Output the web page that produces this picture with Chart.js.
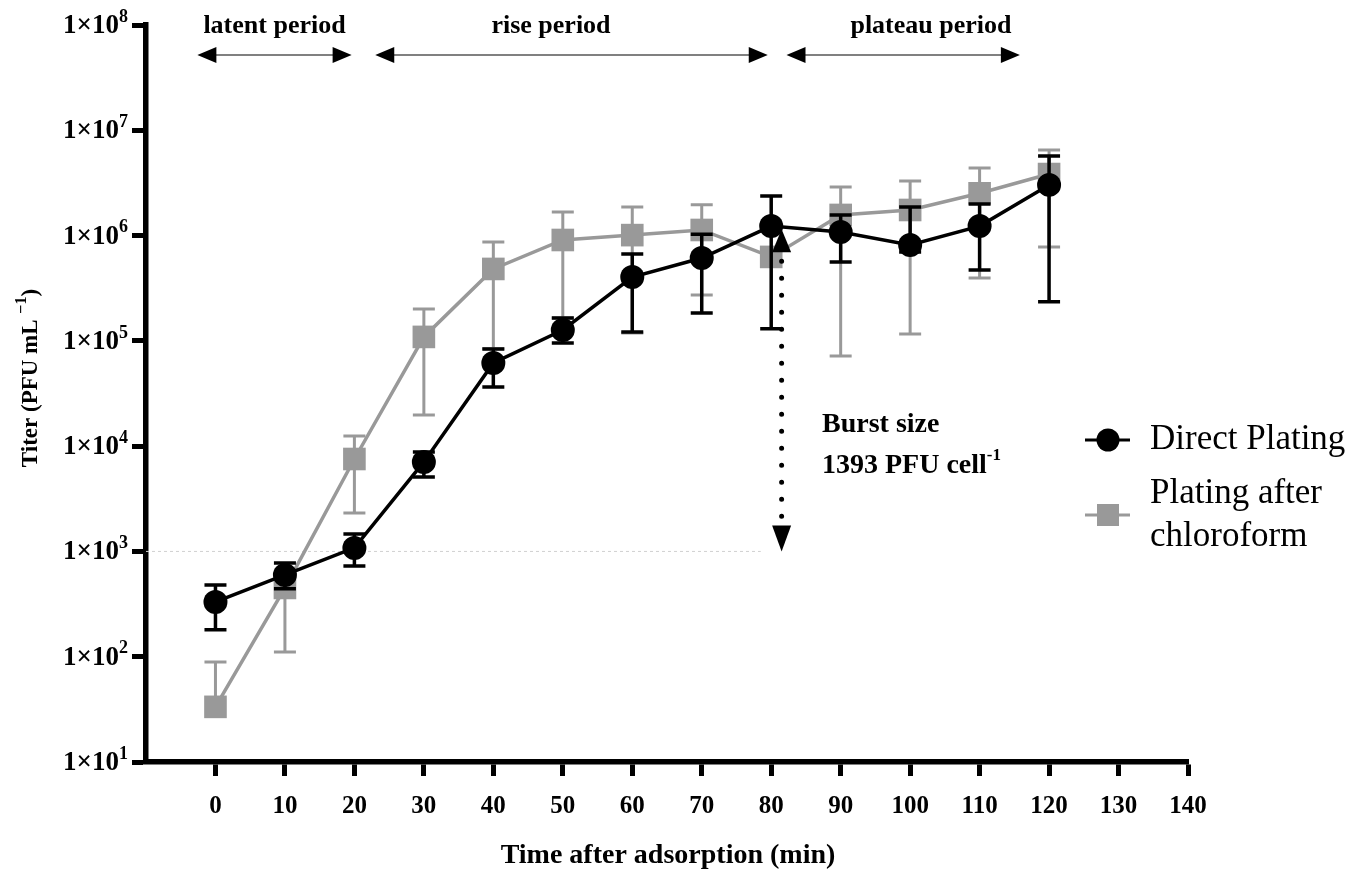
<!DOCTYPE html>
<html><head><meta charset="utf-8">
<script src="https://cdn.jsdelivr.net/npm/chart.js@4/dist/chart.umd.min.js"></script>
<style>html,body{margin:0;padding:0;background:#fff;}#wrap{position:relative;width:1362px;height:871px;}</style>
</head><body><div id="wrap"><canvas id="c" width="1362" height="871"></canvas></div>
<script>
// ---- data ----
const times = [0,10,20,30,40,50,60,70,80,90,100,110,120];
const directMean = [331, 598, 1080, 7080, 61700, 126800, 404000, 612000, 1230000, 1080000, 815000, 1230000, 3030000];
const directLow  = [180, 441, 728, 5090, 36500, 95600, 121600, 184000, 130000, 561000, 700000, 471000, 235000];
const directHigh = [479, 778, 1466, 8800, 83800, 165000, 668000, 1030000, 2380000, 1570000, 1870000, 2000000, 5700000];
const chloroMean = [33.4, 450, 7550, 109000, 482000, 908000, 1010000, 1130000, 627000, 1570000, 1750000, 2520000, 3840000];
const chloroLow  = [33.4, 111, 2320, 19800, 84000, 165000, 119000, 273000, 627000, 72000, 116000, 395000, 780000];
const chloroHigh = [89, 600, 12500, 201000, 871000, 1670000, 1870000, 1960000, 627000, 2890000, 3300000, 4380000, 6500000];
const yTickValues = [1e1,1e2,1e3,1e4,1e5,1e6,1e7,1e8];
const xTickValues = [0,10,20,30,40,50,60,70,80,90,100,110,120,130,140];
const seriesNames = ['Direct Plating', 'Plating after chloroform'];
const periodLabels = ['latent period','rise period','plateau period'];
const periodStart = [-2.6, 23.0, 82.2];
const periodEnd   = [19.6, 79.5, 115.8];
const periodLabelX = [8.5, 48.3, 103];
const burstX = 81.5, burstTop = 1.15e6, burstBottom = 1e3;
const burstText1 = 'Burst size', burstText2 = '1393 PFU cell', burstSup = '-1';

const SERIF = '"Liberation Serif", "DejaVu Serif", serif';
const BLACK = '#000000', GRAY = '#999999';

function drawSup(ctx, parts, x, y, align, baseSize, supSize, bold, supRise) {
  const w = bold ? 'bold ' : '';
  let total = 0;
  parts.forEach(p => { ctx.font = w + (p.sup ? supSize : baseSize) + 'px ' + SERIF; total += ctx.measureText(p.t).width; });
  let cx = align === 'right' ? x - total : (align === 'center' ? x - total / 2 : x);
  ctx.textAlign = 'left'; ctx.textBaseline = 'middle';
  parts.forEach(p => {
    ctx.font = w + (p.sup ? supSize : baseSize) + 'px ' + SERIF;
    ctx.fillText(p.t, cx, p.sup ? y - supRise : y);
    cx += ctx.measureText(p.t).width;
  });
}

function drawErrors(chart, lows, highs, means, color, lw) {
  const ctx = chart.ctx, xs = chart.scales.x, ys = chart.scales.y;
  ctx.save(); ctx.strokeStyle = color; ctx.lineWidth = lw; ctx.lineCap = 'butt';
  times.forEach((t, i) => {
    const x = xs.getPixelForValue(t);
    const ym = ys.getPixelForValue(means[i]);
    const yl = ys.getPixelForValue(lows[i]), yh = ys.getPixelForValue(highs[i]);
    ctx.beginPath();
    if (Math.abs(yl - ym) > 1) { ctx.moveTo(x, ym); ctx.lineTo(x, yl); ctx.moveTo(x - 11, yl); ctx.lineTo(x + 11, yl); }
    if (Math.abs(yh - ym) > 1) { ctx.moveTo(x, ym); ctx.lineTo(x, yh); ctx.moveTo(x - 11, yh); ctx.lineTo(x + 11, yh); }
    ctx.stroke();
  });
  ctx.restore();
}

function arrowHead(ctx, x, y, dir, len, half) {
  ctx.beginPath();
  if (dir === 'left') { ctx.moveTo(x, y); ctx.lineTo(x + len, y - half); ctx.lineTo(x + len, y + half); }
  else if (dir === 'right') { ctx.moveTo(x, y); ctx.lineTo(x - len, y - half); ctx.lineTo(x - len, y + half); }
  else if (dir === 'up') { ctx.moveTo(x, y); ctx.lineTo(x - half, y + len); ctx.lineTo(x + half, y + len); }
  else { ctx.moveTo(x, y); ctx.lineTo(x - half, y - len); ctx.lineTo(x + half, y - len); }
  ctx.closePath(); ctx.fill();
}

const custom = {
  id: 'custom',
  beforeDatasetsDraw(chart) {
    const ctx = chart.ctx, xs = chart.scales.x, ys = chart.scales.y;
    const y = ys.getPixelForValue(1e3);
    ctx.save(); ctx.strokeStyle = '#d0d0d0'; ctx.lineWidth = 1; ctx.setLineDash([3, 3]);
    ctx.beginPath(); ctx.moveTo(xs.getPixelForValue(-10), y); ctx.lineTo(xs.getPixelForValue(78.5), y); ctx.stroke();
    ctx.restore();
  },
  beforeDatasetDraw(chart, args) {
    if (args.index === 1) drawErrors(chart, chloroLow, chloroHigh, chloroMean, GRAY, 3);
    else drawErrors(chart, directLow, directHigh, directMean, BLACK, 3.5);
  },
  afterDatasetsDraw(chart) {
    const ctx = chart.ctx, xs = chart.scales.x, ys = chart.scales.y;
    const x = xs.getPixelForValue(burstX);
    const yt = ys.getPixelForValue(burstTop), yb = ys.getPixelForValue(burstBottom);
    ctx.save(); ctx.fillStyle = BLACK; ctx.strokeStyle = BLACK;
    arrowHead(ctx, x, yt, 'up', 23, 9.5);
    arrowHead(ctx, x, yb, 'down', 26, 9.5);
    ctx.lineWidth = 5; ctx.lineCap = 'round'; ctx.setLineDash([0, 17]);
    ctx.beginPath(); ctx.moveTo(x, yt + 32); ctx.lineTo(x, yb - 28); ctx.stroke();
    ctx.restore();
  },
  afterDraw(chart) {
    const ctx = chart.ctx, xs = chart.scales.x, ys = chart.scales.y;
    ctx.save(); ctx.fillStyle = BLACK;
    // y tick labels
    yTickValues.forEach(v => {
      const y = ys.getPixelForValue(v);
      drawSup(ctx, [{t: '1×10'}, {t: String(Math.round(Math.log10(v))), sup: true}], 128, y + 1, 'right', 27, 18, true, 9);
    });
    // y title
    ctx.save(); ctx.translate(31, 378); ctx.rotate(-Math.PI / 2);
    drawSup(ctx, [{t: 'Titer (PFU mL '}, {t: '−1', sup: true}, {t: ')'}], 0, 0, 'center', 23, 16, true, 9);
    ctx.restore();
    // x title
    ctx.font = 'bold 28px ' + SERIF; ctx.textAlign = 'center'; ctx.textBaseline = 'middle';
    ctx.fillText('Time after adsorption (min)', 668, 856);
    // period arrows
    const ay = ys.getPixelForValue(5.2e7), ly = ys.getPixelForValue(1e8) + 1;
    periodLabels.forEach((lab, i) => {
      const x1 = xs.getPixelForValue(periodStart[i]), x2 = xs.getPixelForValue(periodEnd[i]);
      ctx.strokeStyle = '#808080'; ctx.lineWidth = 2;
      ctx.beginPath(); ctx.moveTo(x1 + 10, ay); ctx.lineTo(x2 - 10, ay); ctx.stroke();
      ctx.fillStyle = BLACK;
      arrowHead(ctx, x1, ay, 'left', 19, 8);
      arrowHead(ctx, x2, ay, 'right', 19, 8);
      ctx.font = 'bold 26px ' + SERIF; ctx.textAlign = 'center'; ctx.textBaseline = 'middle';
      ctx.fillText(lab, xs.getPixelForValue(periodLabelX[i]), ly);
    });
    // burst text
    ctx.fillStyle = BLACK;
    ctx.font = 'bold 28px ' + SERIF; ctx.textAlign = 'left'; ctx.textBaseline = 'middle';
    ctx.fillText(burstText1, 822, 425);
    drawSup(ctx, [{t: burstText2}, {t: burstSup, sup: true}], 822, 466, 'left', 28, 17, true, 10);
    // legend
    const lx1 = 1085, lx2 = 1130, lc = 1108;
    ctx.lineWidth = 3;
    ctx.strokeStyle = BLACK; ctx.beginPath(); ctx.moveTo(lx1, 440); ctx.lineTo(lx2, 440); ctx.stroke();
    ctx.fillStyle = BLACK; ctx.beginPath(); ctx.arc(lc, 440, 11.5, 0, Math.PI * 2); ctx.fill();
    ctx.strokeStyle = GRAY; ctx.beginPath(); ctx.moveTo(lx1, 515); ctx.lineTo(lx2, 515); ctx.stroke();
    ctx.fillStyle = GRAY; ctx.fillRect(lc - 11, 504, 22, 22);
    ctx.fillStyle = BLACK; ctx.font = '35px ' + SERIF; ctx.textAlign = 'left'; ctx.textBaseline = 'middle';
    ctx.fillText(seriesNames[0], 1150, 440);
    ctx.fillText('Plating after', 1150, 494);
    ctx.fillText('chloroform', 1150, 537);
    ctx.restore();
  }
};

new Chart(document.getElementById('c'), {
  type: 'line',
  data: {
    datasets: [
      { label: seriesNames[0], data: times.map((t, i) => ({x: t, y: directMean[i]})),
        borderColor: BLACK, backgroundColor: BLACK, borderWidth: 3.5, tension: 0,
        pointStyle: 'circle', pointRadius: 12, pointBackgroundColor: BLACK, pointBorderWidth: 0 },
      { label: seriesNames[1], data: times.map((t, i) => ({x: t, y: chloroMean[i]})),
        borderColor: GRAY, backgroundColor: GRAY, borderWidth: 3.5, tension: 0,
        pointStyle: 'rect', pointRadius: 16, pointBackgroundColor: GRAY, pointBorderWidth: 0 }
    ]
  },
  options: {
    responsive: false, animation: false, devicePixelRatio: 1,
    layout: { padding: { left: 0, top: 25, right: 174, bottom: 0 } },
    plugins: { legend: { display: false }, tooltip: { enabled: false } },
    scales: {
      x: {
        type: 'linear', min: -10, max: 140,
        afterBuildTicks: s => { s.ticks = xTickValues.map(v => ({value: v})); },
        afterFit: s => { s.height = 109; },
        border: { display: true, color: BLACK, width: 5.5 },
        grid: { drawOnChartArea: false, drawTicks: true, tickLength: 14, tickWidth: 5, tickColor: BLACK },
        ticks: { color: BLACK, padding: 16, maxRotation: 0, autoSkip: false,
                 font: { family: SERIF, size: 25, weight: 'bold' } }
      },
      y: {
        type: 'logarithmic', min: 10, max: 1e8,
        afterBuildTicks: s => { s.ticks = yTickValues.map(v => ({value: v})); },
        afterFit: s => { s.width = 146; },
        border: { display: true, color: BLACK, width: 5.5 },
        grid: { drawOnChartArea: false, drawTicks: true, tickLength: 14, tickWidth: 5, tickColor: BLACK },
        ticks: { display: false }
      }
    }
  },
  plugins: [custom]
});
</script></body></html>
